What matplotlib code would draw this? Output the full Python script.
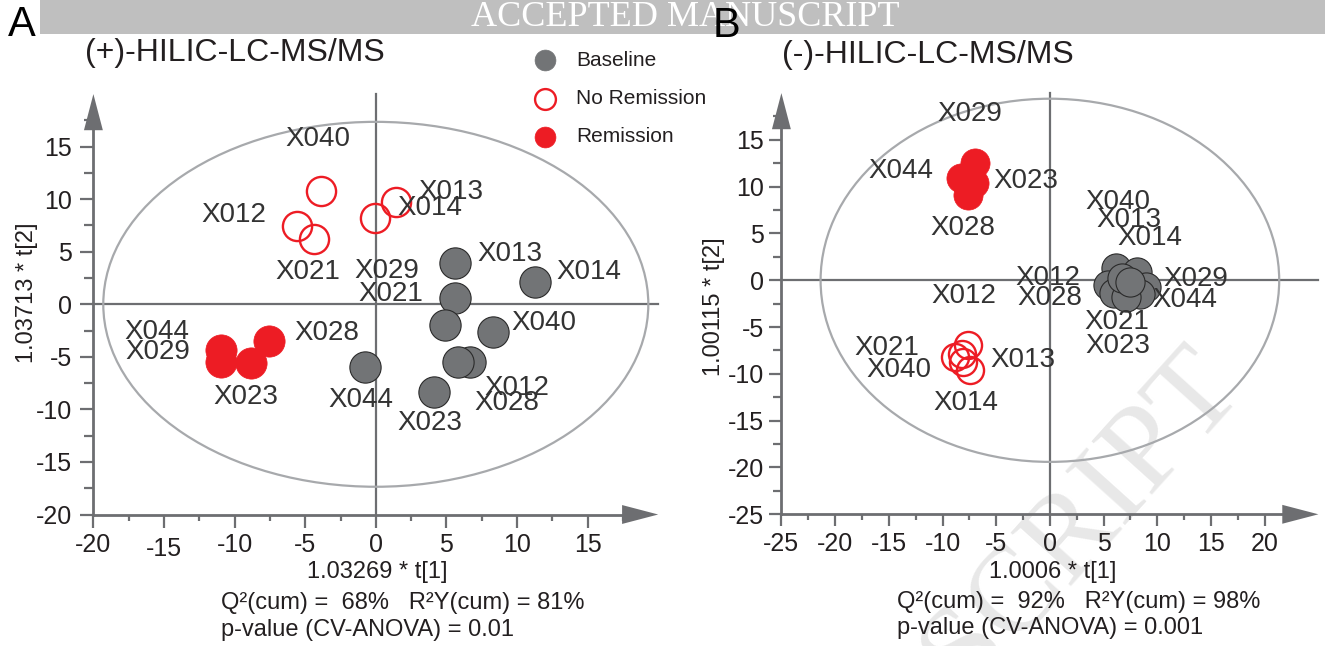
import matplotlib
matplotlib.use("Agg")
import matplotlib.pyplot as plt
from matplotlib.lines import Line2D
from matplotlib.patches import Ellipse, Rectangle

plt.rcParams["font.family"] = ["Liberation Sans", "DejaVu Sans"]

# ---------------------------------------------------------------- data
# (+)-HILIC-LC-MS/MS OPLS-DA scores
pos_base_names = ["X013", "X014", "X029", "X021", "X040", "X012", "X028", "X044", "X023"]
pos_base_t1 = [5.63, 11.29, 5.63, 4.87, 8.27, 6.69, 5.82, -0.78, 4.10]
pos_base_t2 = [3.90, 2.09, 0.63, -1.97, -2.66, -5.52, -5.52, -6.00, -8.31]

pos_nr_names = ["X040", "X012", "X021", "X014", "X013"]
pos_nr_t1 = [-3.87, -5.57, -4.37, -0.06, 1.43]
pos_nr_t2 = [10.78, 7.48, 6.18, 8.18, 9.77]

pos_rem_names = ["X044", "X029", "X023", "X028"]
pos_rem_t1 = [-10.99, -10.99, -8.87, -7.55]
pos_rem_t2 = [-4.35, -5.46, -5.62, -3.50]

# (-)-HILIC-LC-MS/MS OPLS-DA scores
neg_base_names = ["X040", "X013", "X014", "X012", "X028", "X044", "X021", "X023", "X029"]
neg_base_t1 = [6.16, 8.11, 8.95, 5.41, 5.97, 8.39, 7.09, 6.71, 7.46]
neg_base_t2 = [1.28, 0.89, -0.72, -0.50, -1.36, -1.46, -1.78, 0.25, -0.18]

neg_nr_names = ["X012", "X021", "X013", "X040", "X014"]
neg_nr_t1 = [-8.20, -8.84, -7.60, -8.06, -7.44]
neg_nr_t2 = [-7.90, -8.16, -6.91, -8.70, -9.58]

neg_rem_names = ["X029", "X044", "X023", "X028"]
neg_rem_t1 = [-6.93, -8.28, -7.07, -7.63]
neg_rem_t2 = [12.53, 10.93, 10.40, 9.11]

groups = ["Baseline", "No Remission", "Remission"]

# ---------------------------------------------------------------- label placement (score units)
pos_label_xy = {
    "base": {"X013": (9.52, 4.79), "X014": (15.12, 3.04), "X029": (0.8, 3.2),
             "X021": (1.03, 0.98), "X040": (11.87, -1.81), "X012": (9.99, -8.0),
             "X028": (9.28, -9.4), "X044": (-1.09, -9.1), "X023": (3.81, -11.32)},
    "nr": {"X040": (-4.07, 15.73), "X012": (-10.03, 8.5), "X021": (-4.82, 3.1),
           "X014": (3.81, 9.13), "X013": (5.3, 10.71)},
    "rem": {"X044": (-15.47, -2.6), "X029": (-15.47, -4.5), "X023": (-9.22, -8.79),
            "X028": (-3.48, -2.76)},
}
neg_label_xy = {
    "base": {"X040": (6.31, 8.4), "X013": (7.32, 6.44), "X014": (9.28, 4.55),
             "X012": (-0.18, 0.2), "X028": (0.01, -1.92), "X029": (13.6, 0.1),
             "X044": (12.58, -2.1), "X021": (6.22, -4.42), "X023": (6.31, -7.02)},
    "nr": {"X012": (-8.06, -1.68), "X021": (-15.2, -7.27), "X040": (-14.1, -9.58),
           "X013": (-2.48, -8.51), "X014": (-7.84, -13.14)},
    "rem": {"X029": (-7.42, 17.77), "X044": (-13.84, 11.71), "X023": (-2.22, 10.64),
            "X028": (-8.08, 5.55)},
}

# ---------------------------------------------------------------- style
W, H = 1325, 646
AX_GREY = "#6d6e71"
ELL_GREY = "#a7a9ac"
BASE_FILL = "#727476"
RED = "#ed1c24"
TXT = "#231f20"
LBL = "#333333"
LBL_SIZE = 20

fig = plt.figure(figsize=(W / 100, H / 100), dpi=100)
fig.patch.set_facecolor("white")


def fx(px):
    return px / W


def fy(py):
    return 1 - py / H


def ftext(px, py, s, **kw):
    kw.setdefault("color", TXT)
    return fig.text(fx(px), fy(py), s, **kw)


# header band
fig.patches.append(Rectangle((fx(40), fy(34)), fx(1325) - fx(40), fy(0) - fy(34),
                             transform=fig.transFigure, facecolor="#bfbfbf",
                             edgecolor="none", zorder=-2))
ftext(685, 26, "ACCEPTED MANUSCRIPT", ha="center", va="baseline", fontsize=26,
      family=["Liberation Serif", "DejaVu Serif"], color="white", zorder=-1)

# diagonal watermark
ftext(1245, 392, "ACCEPTED MANUSCRIPT", ha="right", va="baseline", rotation=48,
      rotation_mode="anchor", fontsize=88, family=["Liberation Serif", "DejaVu Serif"],
      color="#e8e8e8", zorder=-1)


def make_axes(px_left, px_right, py_top, py_bottom, xlim, ylim):
    ax = fig.add_axes([fx(px_left), fy(py_bottom), fx(px_right) - fx(px_left),
                       fy(py_top) - fy(py_bottom)])
    ax.set_xlim(*xlim)
    ax.set_ylim(*ylim)
    ax.patch.set_visible(False)
    for s in ("top", "right"):
        ax.spines[s].set_visible(False)
    for s in ("left", "bottom"):
        ax.spines[s].set_color(AX_GREY)
        ax.spines[s].set_linewidth(2.0)
    return ax


def decorate(ax, xlim, ylim, xmaj, ymaj, xhead, yhead, ell_w, ell_h,
             xlen, ylen, ylen_minor, ypad):
    x0, x1 = xlim
    y0, y1 = ylim
    ax.spines["bottom"].set_bounds(x0, x1 - xhead)
    ax.spines["left"].set_bounds(y0, y1 - yhead)
    arrow = dict(arrowstyle="-|>,head_length=2.6,head_width=0.68", mutation_scale=10,
                 color=AX_GREY, lw=0, shrinkA=0, shrinkB=0)
    ax.annotate("", xy=(x1, y0), xytext=(x1 - 0.5 * xhead, y0), arrowprops=arrow,
                annotation_clip=False)
    ax.annotate("", xy=(x0, y1), xytext=(x0, y1 - 0.5 * yhead), arrowprops=arrow,
                annotation_clip=False)
    # origin cross lines and Hotelling ellipse
    ax.plot([0, 0], [y0, y1], color=AX_GREY, lw=1.6, zorder=1, clip_on=False)
    ax.plot([x0, x1], [0, 0], color=AX_GREY, lw=1.6, zorder=1, clip_on=False)
    ax.add_patch(Ellipse((0, 0), 2 * ell_w, 2 * ell_h, fill=False, ec=ELL_GREY,
                         lw=1.6, zorder=1))
    ax.set_xticks(xmaj)
    ax.set_yticks(ymaj)
    ax.set_xticks([v + 2.5 for v in xmaj], minor=True)
    ax.set_yticks([v + 2.5 for v in ymaj], minor=True)
    ax.set_xticklabels([f"{v:g}" for v in xmaj])
    ax.set_yticklabels([f"{v:g}" for v in ymaj])
    ax.tick_params(axis="x", which="major", length=xlen, width=1.6, color=AX_GREY,
                   labelsize=18, labelcolor=TXT, pad=4.5)
    ax.tick_params(axis="x", which="minor", length=4.5, width=1.6, color=AX_GREY)
    ax.tick_params(axis="y", which="major", length=ylen, width=1.6, color=AX_GREY,
                   labelsize=18, labelcolor=TXT, pad=ypad)
    ax.tick_params(axis="y", which="minor", length=ylen_minor, width=1.6, color=AX_GREY)


def draw_scores(ax, series, labels_xy, ms):
    base, nr, rem = series
    for name, x, y in zip(*base):
        ax.plot(x, y, "o", ms=ms, mfc=BASE_FILL, mec="#2a2a2a", mew=0.8, zorder=3,
                clip_on=False)
        lx, ly = labels_xy["base"][name]
        ax.text(lx, ly, name, ha="center", va="center", fontsize=LBL_SIZE, color=LBL,
                zorder=4)
    for name, x, y in zip(*nr):
        ax.plot(x, y, "o", ms=ms - 1.5, mfc="none", mec=RED, mew=1.7, zorder=3,
                clip_on=False)
        lx, ly = labels_xy["nr"][name]
        ax.text(lx, ly, name, ha="center", va="center", fontsize=LBL_SIZE, color=LBL,
                zorder=4)
    for name, x, y in zip(*rem):
        ax.plot(x, y, "o", ms=ms, mfc=RED, mec=RED, mew=0.5, zorder=3, clip_on=False)
        lx, ly = labels_xy["rem"][name]
        ax.text(lx, ly, name, ha="center", va="center", fontsize=LBL_SIZE, color=LBL,
                zorder=4)


# ---------------------------------------------------------------- panel A
xlimA, ylimA = (-20, 20), (-20, 20)
axA = make_axes(93.4, 658.2, 94.1, 514.5, xlimA, ylimA)
decorate(axA, xlimA, ylimA, list(range(-20, 20, 5)), list(range(-20, 20, 5)),
         xhead=1.8, yhead=2.6, ell_w=19.3, ell_h=17.36,
         xlen=9, ylen=9.5, ylen_minor=6.5, ypad=6)
axA.xaxis.get_major_ticks()[1].set_pad(7.5)
draw_scores(axA,
            [(pos_base_names, pos_base_t1, pos_base_t2),
             (pos_nr_names, pos_nr_t1, pos_nr_t2),
             (pos_rem_names, pos_rem_t1, pos_rem_t2)],
            pos_label_xy, ms=22.5)

ftext(22, 25, "A", ha="center", va="center", fontsize=30, color="black")
ftext(85, 53, "(+)-HILIC-LC-MS/MS", ha="left", va="center", fontsize=23)
ftext(377, 572, "1.03269 * t[1]", ha="center", va="center", fontsize=17)
ftext(221, 603, "Q²(cum) =  68%   R²Y(cum) = 81%", ha="left", va="center", fontsize=17)
ftext(221, 630, "p-value (CV-ANOVA) = 0.01", ha="left", va="center", fontsize=17)
ftext(27, 293, "1.03713 * t[2]", ha="center", va="center", rotation=90, fontsize=17)

# legend
leg_y = [60, 99, 137]
leg_style = [dict(mfc=BASE_FILL, mec=BASE_FILL, mew=0.5),
             dict(mfc="none", mec=RED, mew=1.7),
             dict(mfc=RED, mec=RED, mew=0.5)]
for g, py, st in zip(groups, leg_y, leg_style):
    fig.add_artist(Line2D([fx(545)], [fy(py)], marker="o", ms=15, ls="none",
                          transform=fig.transFigure, **st))
    ftext(576, py, g, ha="left", va="center", fontsize=15)

# ---------------------------------------------------------------- panel B
xlimB, ylimB = (-25, 25), (-25, 20)
axB = make_axes(781.4, 1318.4, 93.1, 514.3, xlimB, ylimB)
decorate(axB, xlimB, ylimB, list(range(-25, 25, 5)), list(range(-25, 20, 5)),
         xhead=2.4, yhead=2.9, ell_w=21.35, ell_h=19.4,
         xlen=8.6, ylen=8.6, ylen_minor=5.7, ypad=4)
draw_scores(axB,
            [(neg_base_names, neg_base_t1, neg_base_t2),
             (neg_nr_names, neg_nr_t1, neg_nr_t2),
             (neg_rem_names, neg_rem_t1, neg_rem_t2)],
            neg_label_xy, ms=21)

ftext(726, 26, "B", ha="center", va="center", fontsize=30, color="black")
ftext(782, 55, "(-)-HILIC-LC-MS/MS", ha="left", va="center", fontsize=23)
ftext(1053, 572, "1.0006 * t[1]", ha="center", va="center", fontsize=17)
ftext(897, 602, "Q²(cum) =  92%   R²Y(cum) = 98%", ha="left", va="center", fontsize=17)
ftext(897, 628, "p-value (CV-ANOVA) = 0.001", ha="left", va="center", fontsize=17)
ftext(714, 307, "1.00115 * t[2]", ha="center", va="center", rotation=90, fontsize=17)

fig.savefig("out.png", dpi=100)
